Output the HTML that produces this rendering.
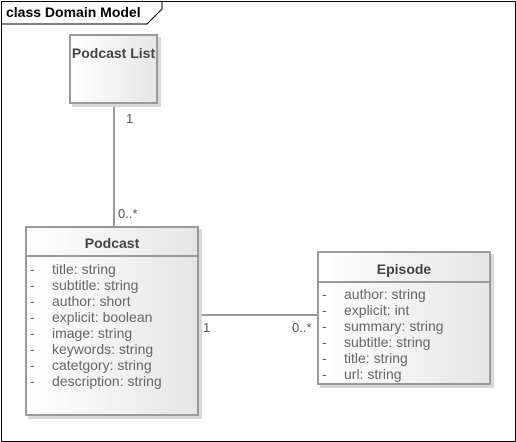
<!DOCTYPE html>
<html><head><style>
body{margin:0;width:516px;height:442px;background:#fff;position:relative;font-family:"Liberation Sans",Arial,sans-serif;overflow:hidden}
.abs{position:absolute}
.box{position:absolute;border:2px solid #9a9a9a;background:linear-gradient(to right,#fff,#e6e6e6);box-shadow:3px 3px 0 #d8d8d8;box-sizing:border-box}
.hd{font-weight:bold;font-size:14px;color:#444;text-align:center}
.at{position:absolute;font-size:14px;color:#666;white-space:nowrap;line-height:16px}
.lbl{position:absolute;font-size:13px;color:#555}
</style></head><body>
<div class="abs" style="left:1px;top:1px;width:513px;height:439px;border:1px solid #000"></div>
<svg class="abs" style="left:0;top:0" width="516" height="442">
<path d="M1 24 H147 L162 9 V1" fill="none" stroke="#000" stroke-width="1"/>
<line x1="114" y1="104" x2="114" y2="226" stroke="#999" stroke-width="2"/>
<line x1="198" y1="315" x2="317" y2="315" stroke="#999" stroke-width="2"/>
</svg>
<div class="abs" style="left:6px;top:4px;font-size:14px;font-weight:bold;color:#000">class Domain Model</div>
<div class="box" style="left:69px;top:34px;width:89px;height:70px"><div class="hd" style="margin-top:9px">Podcast List</div></div>
<div class="box" style="left:25px;top:226px;width:174px;height:190px">
<div class="hd" style="margin-top:7px">Podcast</div>
<div style="position:absolute;left:0;right:0;top:27px;border-top:2px solid #9a9a9a"></div>
<div class="at" style="left:3px;top:33px">-<br>-<br>-<br>-<br>-<br>-<br>-<br>-</div>
<div class="at" style="left:25px;top:33px">title: string<br>subtitle: string<br>author: short<br>explicit: boolean<br>image: string<br>keywords: string<br>catetgory: string<br>description: string</div>
</div>
<div class="box" style="left:317px;top:251px;width:174px;height:134px">
<div class="hd" style="margin-top:8px">Episode</div>
<div style="position:absolute;left:0;right:0;top:28px;border-top:2px solid #9a9a9a"></div>
<div class="at" style="left:3px;top:33px">-<br>-<br>-<br>-<br>-<br>-</div>
<div class="at" style="left:25px;top:33px">author: string<br>explicit: int<br>summary: string<br>subtitle: string<br>title: string<br>url: string</div>
</div>
<div class="lbl" style="left:126px;top:111px">1</div>
<div class="lbl" style="left:118px;top:206px">0..*</div>
<div class="lbl" style="left:203px;top:320px">1</div>
<div class="lbl" style="left:292px;top:320px">0..*</div>
</body></html>
